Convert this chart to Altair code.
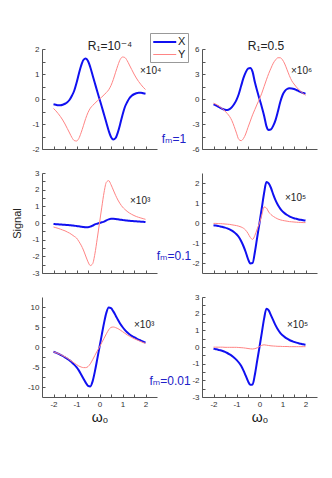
import altair as alt
import pandas as pd

x_grid = [-2.0, -1.9, -1.8, -1.7, -1.6, -1.5, -1.4, -1.3, -1.2, -1.1, -1.0,
          -0.9, -0.8, -0.7, -0.6, -0.5, -0.4, -0.3, -0.2, -0.1, 0.0,
          0.1, 0.2, 0.3, 0.4, 0.5, 0.6, 0.7, 0.8, 0.9, 1.0,
          1.1, 1.2, 1.3, 1.4, 1.5, 1.6, 1.7, 1.8, 1.9, 2.0]

# R1 = 1e-4, fm = 1  (x 1e4)
p1_X = [-0.21, -0.23, -0.25, -0.25, -0.23, -0.19, -0.13, -0.03, 0.13, 0.33, 0.64,
        1.0, 1.33, 1.56, 1.62, 1.52, 1.27, 0.95, 0.63, 0.31, 0.0,
        -0.31, -0.63, -0.95, -1.27, -1.52, -1.62, -1.56, -1.33, -1.0, -0.64,
        -0.33, -0.13, 0.03, 0.13, 0.19, 0.23, 0.25, 0.25, 0.23, 0.21]
p1_Y = [-0.38, -0.47, -0.58, -0.7, -0.84, -1.0, -1.18, -1.36, -1.54, -1.66, -1.68,
        -1.58, -1.35, -1.07, -0.78, -0.54, -0.37, -0.26, -0.17, -0.08, 0.0,
        0.08, 0.17, 0.26, 0.37, 0.54, 0.78, 1.07, 1.35, 1.58, 1.68,
        1.66, 1.54, 1.36, 1.18, 1.0, 0.84, 0.7, 0.58, 0.47, 0.38]

# R1 = 0.5, fm = 1  (x 1e6)
p2_X = [-0.64, -0.76, -0.9, -1.06, -1.2, -1.3, -1.33, -1.22, -0.98, -0.6, -0.1,
        0.6, 1.55, 2.5, 3.2, 3.65, 3.72, 3.25, 2.0, 0.95, 0.0,
        -0.95, -2.0, -3.25, -3.72, -3.65, -3.2, -2.5, -1.5, -0.4, 0.45,
        0.95, 1.2, 1.28, 1.26, 1.2, 1.08, 0.95, 0.82, 0.72, 0.64]
p2_Y = [-0.5, -0.62, -0.78, -0.98, -1.2, -1.45, -1.75, -2.1, -2.6, -3.3, -4.1,
        -4.85, -5.0, -4.75, -4.2, -3.4, -2.65, -1.9, -1.25, -0.6, 0.0,
        0.7, 1.5, 2.3, 3.05, 3.7, 4.3, 4.7, 4.95, 4.95, 4.7,
        4.2, 3.5, 2.8, 2.2, 1.8, 1.45, 1.15, 0.9, 0.65, 0.45]

# R1 = 1e-4, fm = 0.1  (x 1e3)
p3_X = [-0.06, -0.07, -0.08, -0.09, -0.1, -0.11, -0.12, -0.13, -0.15, -0.16, -0.18,
        -0.2, -0.22, -0.24, -0.25, -0.25, -0.22, -0.16, -0.08, -0.04, 0.0,
        0.04, 0.08, 0.16, 0.22, 0.25, 0.25, 0.24, 0.22, 0.2, 0.18,
        0.16, 0.15, 0.13, 0.12, 0.11, 0.1, 0.09, 0.08, 0.07, 0.06]
p3_Y = [-0.24, -0.28, -0.32, -0.37, -0.42, -0.47, -0.54, -0.61, -0.7, -0.8, -0.9,
        -1.1, -1.33, -1.62, -1.98, -2.33, -2.55, -2.45, -1.85, -0.95, 0.0,
        0.95, 1.85, 2.45, 2.54, 2.3, 1.98, 1.66, 1.38, 1.15, 0.96,
        0.82, 0.7, 0.6, 0.52, 0.45, 0.39, 0.34, 0.3, 0.26, 0.22]

# R1 = 0.5, fm = 0.1  (x 1e5)
p4_X = [-0.11, -0.13, -0.15, -0.17, -0.2, -0.23, -0.27, -0.32, -0.38, -0.46, -0.56,
        -0.7, -0.9, -1.15, -1.45, -1.8, -2.02, -2.0, -1.45, -0.72, 0.0,
        0.75, 1.5, 2.05, 1.98, 1.75, 1.42, 1.13, 0.9, 0.72, 0.58,
        0.48, 0.4, 0.33, 0.28, 0.24, 0.21, 0.18, 0.16, 0.14, 0.12]
p4_Y = [-0.02, -0.02, -0.03, -0.03, -0.04, -0.05, -0.06, -0.07, -0.09, -0.11, -0.13,
        -0.16, -0.2, -0.26, -0.36, -0.52, -0.72, -0.82, -0.62, -0.3, 0.0,
        0.4, 0.8, 0.75, 0.55, 0.42, 0.33, 0.26, 0.2, 0.16, 0.13,
        0.11, 0.09, 0.07, 0.06, 0.05, 0.04, 0.03, 0.03, 0.02, 0.02]

# R1 = 1e-4, fm = 0.01  (x 1e3)
p5_X = [-1.2, -1.4, -1.65, -1.95, -2.25, -2.6, -2.95, -3.35, -3.85, -4.4, -5.05,
        -5.85, -6.85, -7.9, -8.9, -9.7, -9.85, -8.6, -6.1, -3.1, 0.0,
        3.1, 6.1, 8.6, 9.85, 9.7, 8.9, 7.9, 6.8, 5.8, 5.0,
        4.3, 3.7, 3.2, 2.8, 2.45, 2.15, 1.85, 1.6, 1.35, 1.1]
p5_Y = [-1.2, -1.4, -1.62, -1.88, -2.15, -2.45, -2.8, -3.2, -3.6, -4.0, -4.4,
        -4.75, -5.0, -5.15, -5.15, -4.9, -4.2, -3.2, -2.1, -1.0, 0.0,
        1.1, 2.2, 3.3, 4.3, 4.9, 5.0, 4.85, 4.6, 4.25, 3.85,
        3.45, 3.05, 2.7, 2.4, 2.1, 1.85, 1.6, 1.35, 1.1, 0.9]

# R1 = 0.5, fm = 0.01  (x 1e5)
p6_X = [-0.1, -0.13, -0.16, -0.2, -0.24, -0.29, -0.36, -0.44, -0.53, -0.64, -0.77,
        -0.93, -1.13, -1.4, -1.72, -2.05, -2.27, -2.25, -1.65, -0.82, 0.0,
        0.85, 1.7, 2.3, 2.2, 1.9, 1.6, 1.3, 1.05, 0.85, 0.7,
        0.59, 0.5, 0.42, 0.36, 0.31, 0.26, 0.22, 0.19, 0.16, 0.14]
p6_Y = [-0.01, -0.01, -0.01, -0.01, -0.01, -0.02, -0.02, -0.02, -0.02, -0.02, -0.02,
        -0.03, -0.04, -0.05, -0.07, -0.09, -0.11, -0.12, -0.1, -0.05, 0.03,
        0.1, 0.13, 0.11, 0.09, 0.07, 0.06, 0.05, 0.04, 0.04, 0.03,
        0.03, 0.03, 0.02, 0.02, 0.02, 0.02, 0.02, 0.02, 0.02, 0.02]

x_ticks = [-2, -1.5, -1, -0.5, 0, 0.5, 1, 1.5, 2]

BLUE = "#1010f0"
RED = "#ff8585"
FM_BLUE = "#2020c8"
FONT = "Liberation Sans, Arial, DejaVu Sans, sans-serif"
W, H = 115, 100


def make_df(xv, yv):
    n = len(x_grid)
    return pd.DataFrame({"x": x_grid + x_grid, "v": xv + yv,
                         "s": ["X"] * n + ["Y"] * n})


def legend():
    return alt.Legend(orient="none", legendX=108, legendY=-16, title=None,
                      strokeColor="#999", padding=2, rowPadding=1,
                      symbolType="M-1,0H3", symbolSize=132,
                      labelFontSize=11, labelFont=FONT, labelColor="#222",
                      labelOffset=12, offset=0)


def txt(t, x, y, size=10, color="#222", align="left", baseline="middle"):
    return alt.Chart(pd.DataFrame({"t": [t]})).mark_text(
        align=align, baseline=baseline, fontSize=size, font=FONT, color=color
    ).encode(text="t:N", x=alt.value(x), y=alt.value(y))


def panel(xv, yv, ydom, yticks, ymajor, bottom, texts, ytitle=None):
    xaxis = alt.Axis(values=x_ticks, labels=bottom,
                     labelExpr="datum.value % 1 == 0 ? '' + datum.value : ''",
                     title="ω₀" if bottom else None,
                     titleFontSize=14, titleFontWeight="normal", titleFont=FONT,
                     titleColor="#111", titlePadding=2,
                     tickSize={"expr": "-3"}, labelPadding=6, grid=False)
    yaxis = alt.Axis(values=yticks,
                     labelExpr="datum.value %% %s == 0 ? '' + datum.value : ''" % ymajor,
                     title=ytitle, titleFontSize=11, titleFontWeight="normal",
                     titleFont=FONT, titleColor="#222", titlePadding=9,
                     tickSize={"expr": "-3"}, labelPadding=6, grid=False)
    lines = alt.Chart(make_df(xv, yv)).mark_line(interpolate="monotone", clip=True).encode(
        x=alt.X("x:Q", scale=alt.Scale(domain=[-2.5, 2.5], nice=False, zero=False), axis=xaxis),
        y=alt.Y("v:Q", scale=alt.Scale(domain=ydom, nice=False, zero=False), axis=yaxis),
        color=alt.Color("s:N", scale=alt.Scale(domain=["X", "Y"], range=[BLUE, RED]), legend=legend()),
        strokeWidth=alt.StrokeWidth("s:N", scale=alt.Scale(domain=["X", "Y"], range=[2, 1]), legend=legend()),
    )
    return alt.layer(lines, *texts).properties(width=W, height=H)


p1 = panel(p1_X, p1_Y, [-2, 2], [-2, -1.5, -1, -0.5, 0, 0.5, 1, 1.5, 2], 1, False,
           [txt("R₁=10⁻⁴", 68, 1, size=12, align="center", baseline="alphabetic"),
            txt("×10⁴", 98, 22),
            txt("fₘ=1", 132, 90, size=12, color=FM_BLUE, align="center")])
p2 = panel(p2_X, p2_Y, [-6, 6], [-6, -4.5, -3, -1.5, 0, 1.5, 3, 4.5, 6], 3, False,
           [txt("R₁=0.5", 64, 1, size=12, align="center", baseline="alphabetic"),
            txt("×10⁶", 89, 22)])
p3 = panel(p3_X, p3_Y, [-3, 3], [-3, -2.5, -2, -1.5, -1, -0.5, 0, 0.5, 1, 1.5, 2, 2.5, 3], 1, False,
           [txt("×10³", 88, 28),
            txt("fₘ=0.1", 132, 83, size=12, color=FM_BLUE, align="center")],
           ytitle="Signal")
p4 = panel(p4_X, p4_Y, [-2.5, 2.5], [-2, -1.5, -1, -0.5, 0, 0.5, 1, 1.5, 2], 1, False,
           [txt("×10⁵", 83, 25)])
p5 = panel(p5_X, p5_Y, [-12.5, 12.5], [-10, -7.5, -5, -2.5, 0, 2.5, 5, 7.5, 10], 5, True,
           [txt("×10³", 92, 28),
            txt("fₘ=0.01", 128, 84, size=12, color=FM_BLUE, align="center")])
p6 = panel(p6_X, p6_Y, [-3, 3], [-3, -2.5, -2, -1.5, -1, -0.5, 0, 0.5, 1, 1.5, 2, 2.5, 3], 1, True,
           [txt("×10⁵", 85, 28)])

chart = alt.concat(
    p1, p2, p3, p4, p5, p6, columns=2,
    spacing={"row": 24, "column": 45}, bounds="flush"
).configure_view(
    stroke=None
).configure_axis(
    domainColor="#555", tickColor="#555", labelColor="#333",
    labelFontSize=8, labelFont=FONT, domainWidth=1, tickWidth=1
).configure_legend(
    symbolStrokeWidth=1.5
).properties(
    background="white", padding={"left": 3, "top": 24, "right": 5, "bottom": 5}
)

chart.save("out.html", embed_options={"renderer": "svg", "actions": False})
